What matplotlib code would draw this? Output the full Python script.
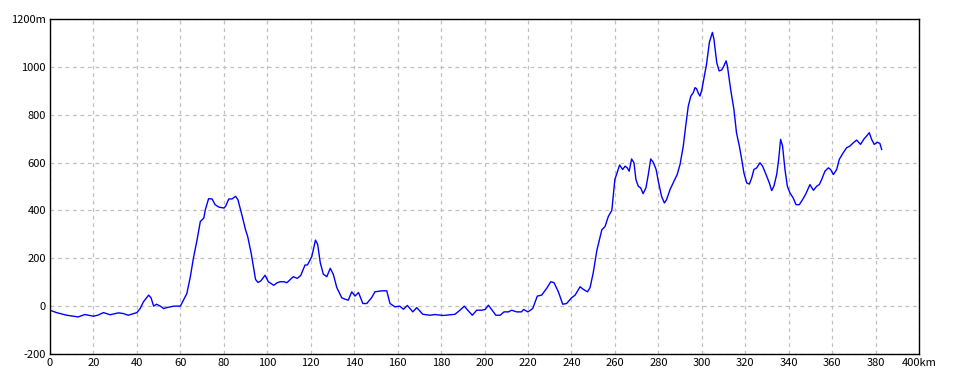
import matplotlib
matplotlib.use('Agg')
import matplotlib.pyplot as plt

# distance (km) and elevation (m) read from the profile
km = [0, 3, 7.7, 13, 16, 20, 22, 24.6, 27.7, 31.5, 33.8, 36, 40, 41.5, 43, 45.4, 46.5,
      47.7, 49, 50.8, 52.3, 53.8, 57, 60, 63, 64.6, 66, 67.7, 69.2, 70.8, 71.5, 73, 74.6,
      76, 77.7, 80, 80.8, 82.3, 83.8, 85.4, 86.5, 88.5, 90, 91, 92.6, 94.6, 95.7, 97, 99,
      100.5, 103, 104.6, 106, 107.7, 109, 110, 112, 113.8, 115.4, 117.4, 118.5, 120.5,
      122.2, 123.2, 124.4, 125.8, 127.4, 129, 130.4, 132, 134.3, 135.8, 137.3, 138.9,
      140.4, 142, 144, 145.8, 148, 149.6, 152.7, 155, 156.5, 158.8, 161, 162.7, 164.5,
      167, 168.8, 171.6, 175, 177.2, 181, 186.4, 188.7, 190.7, 192.3, 194.4, 196.4,
      198.7, 200.3, 201.8, 203.3, 205.2, 207.2, 209, 211, 212.5, 214.8, 217, 218, 220,
      222.2, 224.3, 226.3, 228.6, 230.5, 232, 234, 236, 237.8, 240.1, 241.7, 244, 245.5,
      247.4, 248.6, 250, 251.7, 254, 255.5, 257, 258.6, 260, 262.2, 263.6, 264.7, 265.7,
      266.6, 267.7, 268.8, 269.7, 270.8, 271.9, 273, 274.3, 275.4, 276.5, 277.7, 279, 280,
      281.5, 282.8, 283.8, 285.4, 287.2, 288.7, 290, 291.5, 292.6, 293.8, 295, 296.1,
      296.9, 297.6, 298.4, 299.2, 300, 301, 302.2, 303.5, 304.9, 305.6, 306.9, 308, 309.2,
      310.2, 311.2, 311.8, 313.3, 314.8, 316, 317.3, 318.4, 319.4, 320.7, 321.9, 323, 324,
      325.3, 326.8, 328, 329.6, 331.1, 332.2, 333.2, 334.5, 335.4, 336.3, 337.2, 338.3,
      339.4, 340.6, 342.1, 343.4, 344.9, 346.4, 347.9, 349.8, 351.4, 352.9, 354.1, 355.2,
      356.7, 358.3, 359.3, 360.6, 362.1, 363.3, 364.9, 366.7, 368.2, 369.8, 371.3, 373.1,
      374.7, 375.9, 377.1, 378.2, 379.4, 380.8, 382, 382.8]
elev = [-17, -27, -38, -45, -35, -42, -38, -27, -36, -28, -31, -38, -27, -10, 18, 46, 35,
        0, 8, 0, -10, -6, 0, 0, 53, 123, 200, 277, 354, 368, 403, 449, 448,
        424, 414, 410, 417, 448, 448, 459, 445, 375, 319, 291, 221, 112, 99, 105, 129,
        102, 87, 98, 102, 102, 98, 106, 123, 116, 128, 172, 172, 207,
        276, 258, 182, 134, 123, 158, 133, 78, 35, 29, 25, 60,
        42, 57, 11, 11, 35, 60, 64, 64, 11, -3, 0, -13, 3,
        -24, -6, -34, -38, -35, -39, -34, -17, 0, -17, -38, -17,
        -17, -14, 4, -14, -38, -38, -24, -24, -17, -24, -24, -14, -24,
        -10, 42, 46, 74, 102, 98, 60, 8, 11, 35, 46, 81, 70,
        60, 78, 137, 232, 319, 333, 375, 400, 529, 590, 571, 585, 578,
        564, 615, 599, 529, 501, 494, 470, 494, 550, 615, 601, 571, 522,
        459, 431, 445, 487, 522, 550, 592, 669, 752, 836, 878, 892,
        913, 909, 890, 878, 903, 951, 1011, 1102, 1144, 1116, 1018, 983, 987,
        1004, 1025, 1004, 906, 822, 724, 669, 613, 557, 515, 510, 536, 571,
        578, 599, 585, 550, 515, 483, 501, 550, 613, 697, 669, 571,
        501, 473, 452, 424, 424, 445, 469, 508, 484, 501, 508, 529,
        564, 578, 571, 550, 571, 613, 638, 662, 669, 683, 694, 676,
        699, 711, 725, 697, 676, 685, 680, 655]

x_ticks = list(range(0, 401, 20))
x_labels = [str(v) for v in x_ticks[:-1]] + ['400km']
y_ticks = list(range(-200, 1201, 200))
y_labels = [str(v) for v in y_ticks[:-1]] + ['1200m']

plt.rcParams['font.family'] = ['Noto Sans CJK JP', 'DejaVu Sans']

fig = plt.figure(figsize=(9.6, 3.84), dpi=100)
ax = fig.add_axes([50 / 960, 30 / 384, 869 / 960, 335 / 384])
ax.plot(km, elev, color='#0000ff', linewidth=1.0)

ax.set_xlim(0, 400)
ax.set_ylim(-200, 1200)
ax.set_xticks(x_ticks)
ax.set_xticklabels(x_labels)
ax.set_yticks(y_ticks)
ax.set_yticklabels(y_labels)
ax.tick_params(length=0, labelsize=8, pad=3)
ax.grid(True, color='#c0c0c0', linestyle=(0, (3, 3)), linewidth=0.9)
for s in ax.spines.values():
    s.set_color('black')
    s.set_linewidth(1.0)

fig.savefig('out.png', dpi=100)
